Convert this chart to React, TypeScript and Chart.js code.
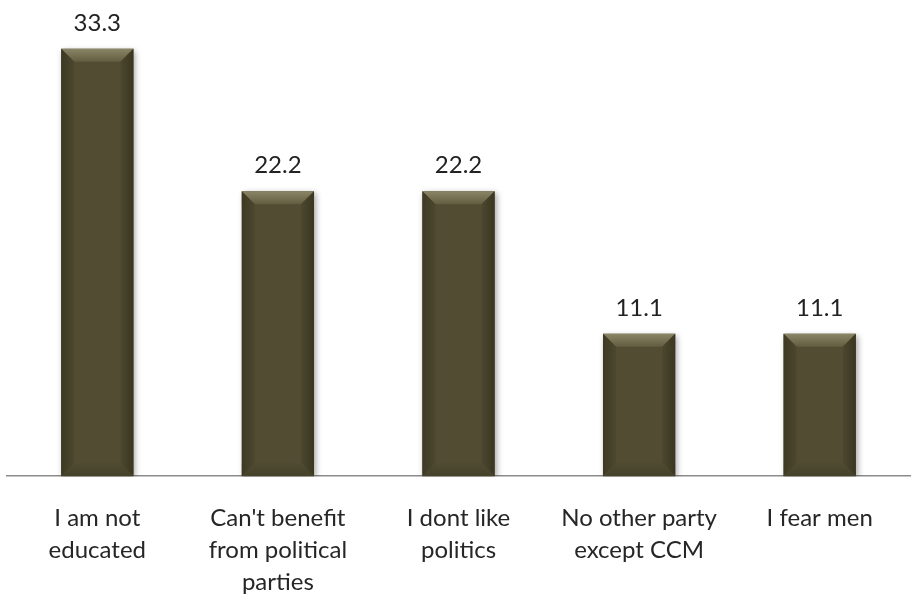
import React, { useEffect, useRef } from "react";
import { Chart, registerables } from "chart.js";

Chart.register(...registerables);

const categories: string[][] = [
  ["I am not", "educated"],
  ["Can't benefit", "from political", "parties"],
  ["I dont like", "politics"],
  ["No other party", "except CCM"],
  ["I fear men"],
];
const values: number[] = [33.3, 22.2, 22.2, 11.1, 11.1];
const valueLabels: string[] = ["33.3", "22.2", "22.2", "11.1", "11.1"];

const FONT = "Lato, 'Open Sans', sans-serif";
const BAR = "#514c32";

const shadowPlugin = {
  id: "barShadow",
  beforeDatasetsDraw(chart: any) {
    const ctx = chart.ctx;
    ctx.save();
    ctx.shadowColor = "rgba(0,0,0,0.35)";
    ctx.shadowBlur = 6;
    ctx.shadowOffsetX = 2;
    ctx.shadowOffsetY = 2;
  },
  afterDatasetsDraw(chart: any) {
    const ctx = chart.ctx;
    ctx.restore();
    const meta = chart.getDatasetMeta(0);
    meta.data.forEach((bar: any, i: number) => {
      const w = bar.width;
      const l = bar.x - w / 2;
      const r = bar.x + w / 2;
      const t = bar.y;
      const b = bar.base;
      const bv = 13;
      ctx.save();
      let g = ctx.createLinearGradient(0, t, 0, t + bv);
      g.addColorStop(0, "#8a8566");
      g.addColorStop(1, "#625d40");
      ctx.fillStyle = g;
      ctx.beginPath();
      ctx.moveTo(l, t);
      ctx.lineTo(r, t);
      ctx.lineTo(r - bv, t + bv);
      ctx.lineTo(l + bv, t + bv);
      ctx.closePath();
      ctx.fill();
      g = ctx.createLinearGradient(l, 0, l + bv, 0);
      g.addColorStop(0, "#3d3923");
      g.addColorStop(1, "#4c472e");
      ctx.fillStyle = g;
      ctx.beginPath();
      ctx.moveTo(l, t);
      ctx.lineTo(l + bv, t + bv);
      ctx.lineTo(l + bv, b - bv);
      ctx.lineTo(l, b);
      ctx.closePath();
      ctx.fill();
      g = ctx.createLinearGradient(r, 0, r - bv, 0);
      g.addColorStop(0, "#3a3621");
      g.addColorStop(1, "#4c472e");
      ctx.fillStyle = g;
      ctx.beginPath();
      ctx.moveTo(r, t);
      ctx.lineTo(r - bv, t + bv);
      ctx.lineTo(r - bv, b - bv);
      ctx.lineTo(r, b);
      ctx.closePath();
      ctx.fill();
      g = ctx.createLinearGradient(0, b, 0, b - bv);
      g.addColorStop(0, "#45412a");
      g.addColorStop(1, "#4f4a31");
      ctx.fillStyle = g;
      ctx.beginPath();
      ctx.moveTo(l, b);
      ctx.lineTo(r, b);
      ctx.lineTo(r - bv, b - bv);
      ctx.lineTo(l + bv, b - bv);
      ctx.closePath();
      ctx.fill();
      ctx.fillStyle = "#222222";
      ctx.font = `24px ${FONT}`;
      ctx.textAlign = "center";
      ctx.textBaseline = "alphabetic";
      ctx.fillText(valueLabels[i], bar.x, t - 18);
      ctx.restore();
    });
  },
};

export default function App() {
  const ref = useRef<HTMLCanvasElement | null>(null);
  useEffect(() => {
    if (!ref.current) return;
    const chart = new Chart(ref.current, {
      type: "bar",
      data: {
        labels: categories,
        datasets: [
          {
            data: values,
            backgroundColor: BAR,
            borderWidth: 0,
            barPercentage: 0.4,
            categoryPercentage: 1,
          },
        ],
      },
      options: {
        animation: false,
        responsive: false,
        maintainAspectRatio: false,
        layout: { padding: { left: 7, right: 3, top: 27, bottom: 0 } },
        plugins: { legend: { display: false }, tooltip: { enabled: false } },
        scales: {
          y: { display: false, min: 0, max: 35 },
          x: {
            grid: { display: false, drawTicks: false },
            border: { display: true, color: "#8c8c8c", width: 1.5 },
            ticks: {
              color: "#262626",
              font: { family: FONT, size: 24, lineHeight: 1.33 },
              padding: 26,
              maxRotation: 0,
              autoSkip: false,
            },
          },
        },
      },
      plugins: [shadowPlugin],
    });
    return () => chart.destroy();
  }, []);
  return (
    <div style={{ position: "absolute", left: 0, top: 0, width: 913, height: 599, overflow: "hidden", background: "#fff" }}>
      <canvas ref={ref} width={913} height={624} style={{ width: 913, height: 624, display: "block" }} />
    </div>
  );
}
